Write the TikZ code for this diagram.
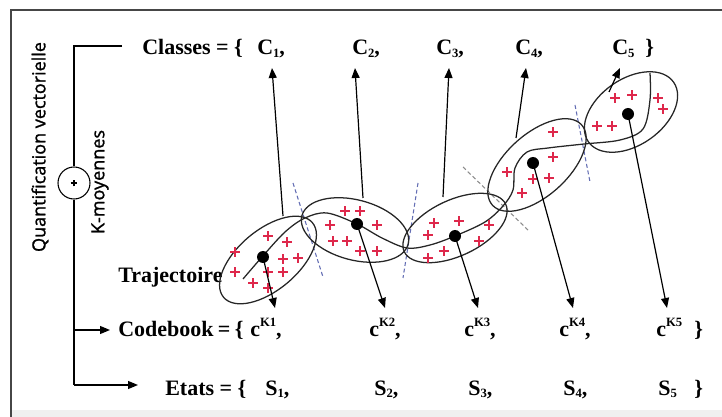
\documentclass[tikz,border=0pt]{standalone}
\usepackage{fontspec}
\setmainfont{Liberation Serif}
\newfontfamily\qsans[FakeBold=1.3]{Open Sans}
\usetikzlibrary{arrows.meta}
\newcommand\mysub[1]{\raisebox{-0.12em}{\fontsize{9.5}{9.5}\selectfont #1}}
\newcommand\mysup[1]{\raisebox{0.5em}{\fontsize{9.5}{9.5}\selectfont #1}}
\definecolor{plusred}{RGB}{222,40,75}
\definecolor{dashblue}{RGB}{100,110,180}
\definecolor{framegray}{RGB}{70,70,70}
\begin{document}
\begin{tikzpicture}[x=0.75pt,y=-0.75pt,
  txt/.style={font=\bfseries\fontsize{16.5}{19}\selectfont, inner sep=0pt, anchor=base west},
  vtxt/.style={font=\qsans\fontsize{13.5}{15}\selectfont, rotate=90, inner sep=0pt},
  arr/.style={-{Triangle[length=7.5pt,width=6pt]}, line width=0.9pt},
  ln/.style={line width=0.85pt},
  ell/.style={draw=black!85, line width=0.95pt},
  sep/.style={draw=dashblue, dash pattern=on 3pt off 2pt, line width=0.8pt},
  dotc/.style={circle, fill=black, inner sep=0pt, minimum size=9pt},
  redplus/.pic={\draw[plusred, line width=0.9pt] (-4.8,0) -- (4.8,0) (0,-4.8) -- (0,4.8);}
]
\useasboundingbox (0,0) rectangle (722,417);
% frame
\fill[black!6] (11,410) rectangle (722,417);
\draw[framegray, line width=1.4pt] (11,417) -- (11,10) -- (722,10);

% left structure
\node[vtxt] (qv) at (40,147) {Quantification vectorielle};
\node[vtxt] (km) at (100,182) {K-moyennes};
\node[circle, draw, line width=0.8pt, minimum size=24pt, inner sep=0pt] (op) at (74,183) {};
\draw[line width=0.8pt] ([xshift=-2.5pt]op.center) -- ([xshift=2.5pt]op.center)
  ([yshift=-2.5pt]op.center) -- ([yshift=2.5pt]op.center);
\coordinate (ltop) at (74,46);
\coordinate (cl) at (122,46);
\coordinate (lcb) at (74,330);
\coordinate (cbend) at (110,330);
\coordinate (lbot) at (74,385);
\coordinate (etend) at (138,385);
\draw[ln] (cl) -- (ltop) -- (op.north);
\draw[ln] (op.south) -- (lbot);
\draw[arr] (lcb) -- (cbend);
\draw[arr] (lbot) -- (etend);

% Classes row
\node[txt] (classes) at (142,55) {Classes = \{};
\node[txt] (C1) at (257,55) {C\mysub{1},};
\node[txt] (C2) at (352,55) {C\mysub{2},};
\node[txt] (C3) at (436,55) {C\mysub{3},};
\node[txt] (C4) at (515,55) {C\mysub{4},};
\node[txt] (C5) at (612,55) {C\mysub{5}};
\node[txt] (Cend) at (645,55) {\}};

% Codebook row
\node[txt] (codebook) at (118,337) {Codebook\hspace{0.2em}=\hspace{0.2em}\{};
\node[txt] (K1) at (250,337) {c\mysup{K1},};
\node[txt] (K2) at (369,337) {c\mysup{K2},};
\node[txt] (K3) at (464,337) {c\mysup{K3},};
\node[txt] (K4) at (559,337) {c\mysup{K4},};
\node[txt] (K5) at (656,337) {c\mysup{K5}};
\node[txt] (Kend) at (694,337) {\}};

% Etats row
\node[txt] (etats) at (165,395) {Etats = \{};
\node[txt] (S1) at (265,395) {S\mysub{1},};
\node[txt] (S2) at (374,395) {S\mysub{2},};
\node[txt] (S3) at (468,395) {S\mysub{3},};
\node[txt] (S4) at (563,395) {S\mysub{4},};
\node[txt] (S5) at (658,395) {S\mysub{5}};
\node[txt] (Send) at (694,395) {\}};

\node[txt] (traj) at (118,283) {Trajectoire};

% separators
\draw[sep] (293,183) -- (323,277);
\draw[sep] (418,183) -- (403,278);
\draw[sep, draw=black!45] (463,167) -- (528,230);
\draw[sep] (575,105) -- (590,182);

% ellipses
\draw[ell, rotate around={40:(268,260)}] (268,260) ellipse [x radius=58, y radius=30];
\draw[ell, rotate around={-15:(355,230)}] (355,230) ellipse [x radius=55, y radius=30];
\draw[ell, rotate around={25:(455,228)}] (455,228) ellipse [x radius=56, y radius=28];
\draw[ell, rotate around={42:(537,165)}] (537,165) ellipse [x radius=60, y radius=31];
\draw[ell, rotate around={35:(631,112)}] (631,112) ellipse [x radius=52, y radius=33];

% trajectory
\draw[ell] plot[smooth, tension=0.55] coordinates {(243,279) (262,257) (285,232) (305,218) (327,213) (357,224) (382,238) (407,248) (430,245) (455,236) (485,222) (503,206) (513,190) (515,168) (527,152) (548,148) (584,144) (620,140) (643,129) (650,100) (650,73)};

% red plus signs
\foreach \p in {(268,236),(287,242),(235,252),(283,259),(298,258),(235,272),(268,272),(283,272),(253,283),(268,288),
  (345,211),(360,211),(330,225),(377,225),(333,241),(347,241),(360,251),(377,251),
  (434,223),(459,221),(489,225),(428,235),(479,241),(428,258),(444,251),
  (553,132),(553,157),(507,172),(533,179),(549,178),(522,193),
  (615,98),(632,95),(658,98),(663,109),(597,126),(612,126)}
  \pic at \p {redplus};

% centroids
\node[dotc] (d1) at (263,257) {};
\node[dotc] (d2) at (357,224) {};
\node[dotc] (d3) at (455,236) {};
\node[dotc] (d4) at (533,163) {};
\node[dotc] (d5) at (628,114) {};

% arrows up to classes
\coordinate (u1) at (283,216); \coordinate (a1) at (272,68);
\coordinate (u2) at (363,198); \coordinate (a2) at (355,68);
\coordinate (u3) at (443,197); \coordinate (a3) at (449,68);
\coordinate (u4) at (516,138); \coordinate (a4) at (526,68);
\coordinate (u5) at (609,92);  \coordinate (a5) at (620,68);
\draw[arr] (u1) -- (a1);
\draw[arr] (u2) -- (a2);
\draw[arr] (u3) -- (a3);
\draw[arr] (u4) -- (a4);
\draw[arr] (u5) -- (a5);

% arrows down to codebook
\coordinate (t1) at (275,308);
\coordinate (t2) at (385,308);
\coordinate (t3) at (478,308);
\coordinate (t4) at (573,308);
\coordinate (t5) at (667,308);
\draw[arr] (d1.center) -- (t1);
\draw[arr] (d2.center) -- (t2);
\draw[arr] (d3.center) -- (t3);
\draw[arr] (d4.center) -- (t4);
\draw[arr] (d5.center) -- (t5);
\end{tikzpicture}
\end{document}
